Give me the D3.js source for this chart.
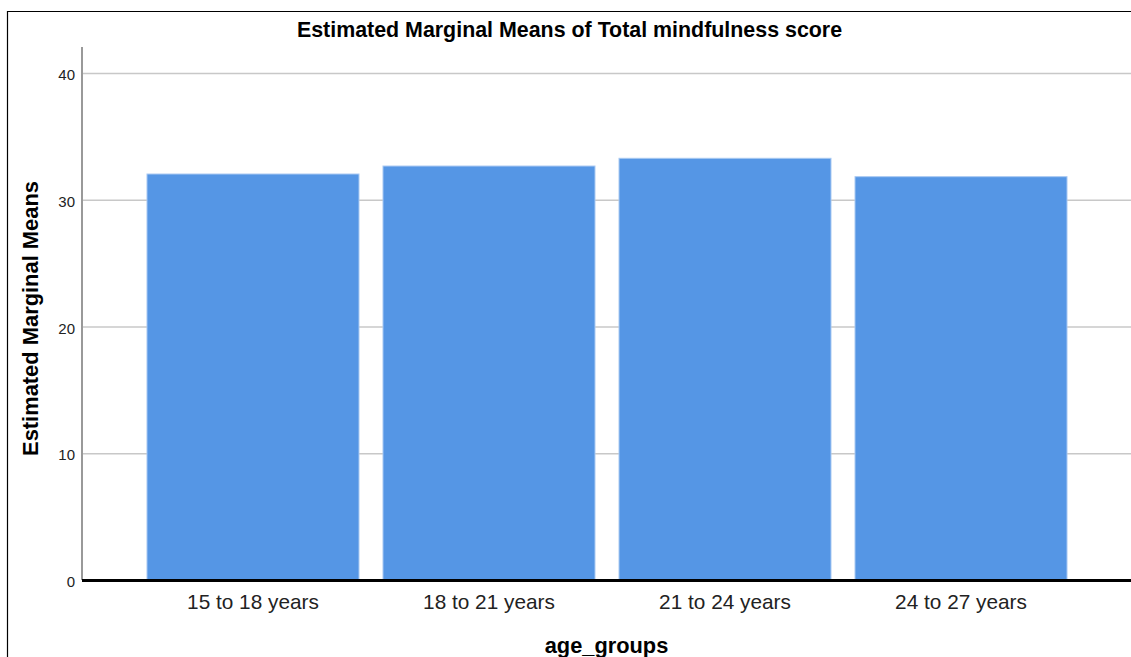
<!DOCTYPE html>
<html><head><meta charset="utf-8">
<script src="https://cdn.jsdelivr.net/npm/d3@7"></script>
<style>body{margin:0;background:#fff}svg{display:block}text{font-family:"Liberation Sans",Arial,sans-serif}</style>
</head><body>
<svg id="c" width="1131" height="657"></svg>
<script>
const categories = ["15 to 18 years","18 to 21 years","21 to 24 years","24 to 27 years"];
const means = [32.07, 32.70, 33.31, 31.86];
const yTicks = [0,10,20,30,40];
const title = "Estimated Marginal Means of Total mindfulness score";
const xTitle = "age_groups";
const yTitle = "Estimated Marginal Means";

const svg = d3.select("#c");
// frame
svg.append("path").attr("d","M7.5,657 V11.5 H1131").attr("fill","none").attr("stroke","#000").attr("stroke-width",1.2);

const x = d3.scaleBand().domain(categories).range([135,1079]).paddingInner(0.1017).paddingOuter(0.0508);
const y = d3.scaleLinear().domain([0,40]).range([580.5,73.5]);

// gridlines
svg.append("g").selectAll("line").data(yTicks.filter(d=>d>0)).join("line")
  .attr("x1",83).attr("x2",1131).attr("y1",d=>y(d)).attr("y2",d=>y(d))
  .attr("stroke","#c8c8c8").attr("stroke-width",1.5);

// y axis
const ya = svg.append("g").attr("transform","translate(82,0)")
  .call(d3.axisLeft(y).tickValues(yTicks).tickSize(0).tickPadding(7).tickFormat(d3.format("d")));
ya.select(".domain").remove();
ya.selectAll("text").attr("font-size",15).attr("fill","#222").attr("dy","0.4em");
svg.append("line").attr("x1",82).attr("x2",82).attr("y1",47).attr("y2",580).attr("stroke","#999").attr("stroke-width",2);

// bars
svg.append("g").selectAll("rect").data(means).join("rect")
  .attr("x",(d,i)=>x(categories[i])).attr("width",x.bandwidth())
  .attr("y",d=>y(d)).attr("height",d=>y(0)-y(d))
  .attr("fill","#5596e5").attr("stroke","#a9c9f2").attr("stroke-width",1);

// x axis
const xa = svg.append("g").attr("transform","translate(0,580.5)")
  .call(d3.axisBottom(x).tickSize(0).tickPadding(14));
xa.select(".domain").remove();
xa.selectAll("text").attr("font-size",20.8).attr("fill","#222").attr("dy","0.71em");
svg.append("line").attr("x1",82).attr("x2",1131).attr("y1",580.5).attr("y2",580.5).attr("stroke","#000").attr("stroke-width",3);

// titles
svg.append("text").attr("x",569.5).attr("y",37).attr("text-anchor","middle")
  .attr("font-size",21.4).attr("font-weight","bold").attr("fill","#000").text(title);
svg.append("text").attr("x",606.5).attr("y",653).attr("text-anchor","middle")
  .attr("font-size",21.8).attr("font-weight","bold").attr("fill","#000").text(xTitle);
svg.append("text").attr("transform","translate(37.5,318.5) rotate(-90)").attr("text-anchor","middle")
  .attr("font-size",21.9).attr("font-weight","bold").attr("fill","#000").text(yTitle);
</script>
</body></html>
